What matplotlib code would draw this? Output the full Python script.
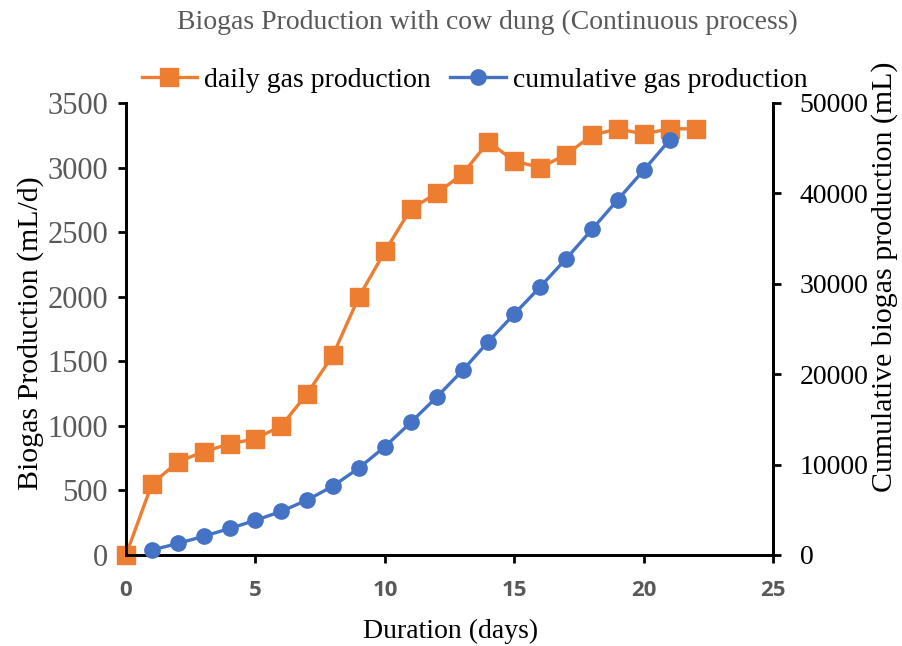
import numpy as np
import matplotlib.pyplot as plt

# days and readings taken off the chart
days_daily = list(range(0, 23))
daily_gas = [0, 550, 720, 800, 860, 900, 1000, 1250, 1550, 2000, 2350, 2680,
             2800, 2950, 3200, 3050, 3000, 3100, 3250, 3300, 3260, 3300, 3300]
days_cum = list(range(1, 22))
cum_gas = [550, 1270, 2070, 2930, 3830, 4830, 6080, 7630, 9630, 11980, 14660,
           17460, 20410, 23610, 26660, 29660, 32760, 36010, 39310, 42570, 45900]

x_ticks = [0, 5, 10, 15, 20, 25]
left_ticks = [0, 500, 1000, 1500, 2000, 2500, 3000, 3500]
right_ticks = [0, 10000, 20000, 30000, 40000, 50000]

orange = '#ED7D31'
blue = '#4472C4'
grey = '#595959'
serif = 'Liberation Serif'

fig = plt.figure(figsize=(9.02, 6.46), dpi=100)
ax = fig.add_axes([0.1397, 0.1409, 0.7175, 0.6997])
ax2 = ax.twinx()

l1, = ax.plot(days_daily, daily_gas, color=orange, lw=2.4, marker='s', ms=13,
              clip_on=False, zorder=3, label='daily gas production')
l2, = ax2.plot(days_cum, cum_gas, color=blue, lw=2.4, marker='o', ms=11,
               clip_on=False, zorder=3, label='cumulative gas production')

ax.set_xlim(0, 25)
ax.set_ylim(0, 3500)
ax2.set_ylim(0, 50000)
ax.set_xticks(x_ticks)
ax.set_yticks(left_ticks)
ax2.set_yticks(right_ticks)

for a in (ax, ax2):
    a.spines['top'].set_visible(False)
    for s in ('left', 'right', 'bottom'):
        a.spines[s].set_linewidth(2)
        a.spines[s].set_color('black')

ax.tick_params(axis='x', length=6, width=2, color='black', pad=12)
ax.tick_params(axis='y', length=6, width=2, color='black', pad=7)
ax2.tick_params(axis='y', length=6, width=2, color='black', pad=13)

for lab in ax.get_xticklabels():
    lab.set_fontfamily('Open Sans')
    lab.set_fontweight('bold')
    lab.set_fontsize(16)
    lab.set_color(grey)
for lab in ax.get_yticklabels():
    lab.set_fontfamily(serif)
    lab.set_fontsize(22)
    lab.set_color(grey)
for lab in ax2.get_yticklabels():
    lab.set_fontfamily(serif)
    lab.set_fontsize(20)
    lab.set_color('black')

fig.text(0.499, 0.022, 'Duration (days)', ha='center', va='center',
         fontfamily=serif, fontsize=20)
fig.text(0.034, 0.4845, 'Biogas Production (mL/d)', rotation=90,
         ha='center', va='center', fontfamily=serif, fontsize=21.5)
fig.text(0.981, 0.572, 'Cumulative biogas production (mL)', rotation=90,
         ha='center', va='center', fontfamily=serif, fontsize=21.5)

fig.text(0.540, 0.966, 'Biogas Production with cow dung (Continuous process)',
         ha='center', va='center', fontfamily=serif, fontsize=20, color=grey)

fig.legend(handles=[l1, l2], loc='center', bbox_to_anchor=(0.526, 0.876), ncol=2,
           frameon=False, prop={'family': serif, 'size': 20},
           handlelength=2.0, columnspacing=0.7, handletextpad=0.25)

fig.savefig('out.png', dpi=100)
